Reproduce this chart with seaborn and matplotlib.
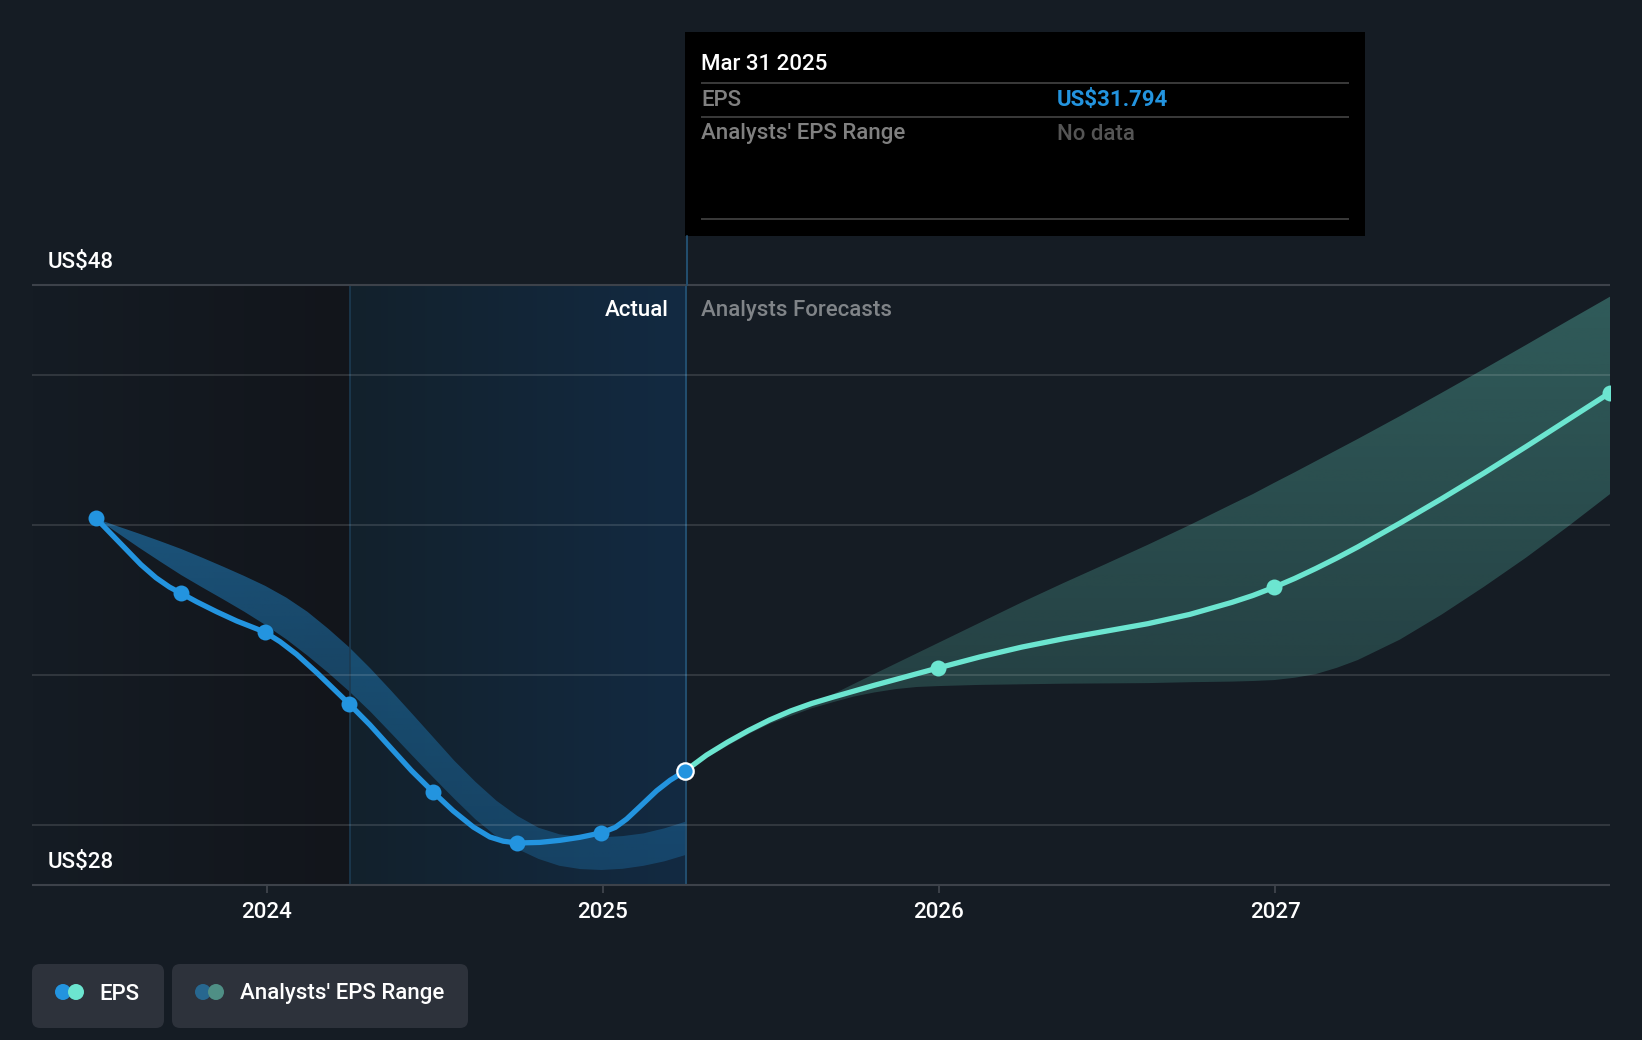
import numpy as np
import matplotlib as mpl
mpl.use('Agg')
import seaborn as sns
import matplotlib.pyplot as plt
from matplotlib.patches import FancyBboxPatch, Circle, Rectangle

# values (x in years, y in US$)
past_x = [2023.497, 2023.54, 2023.585, 2023.63, 2023.675, 2023.715, 2023.75, 2023.796, 2023.855, 2023.915, 2023.974, 2024.0,
	2024.044, 2024.093, 2024.153, 2024.202, 2024.25, 2024.311, 2024.374, 2024.435, 2024.5, 2024.559, 2024.619, 2024.668,
	2024.708, 2024.75, 2024.817, 2024.877, 2024.936, 2025.0, 2025.041, 2025.075, 2025.115, 2025.164, 2025.204, 2025.248]
past_y = [40.22, 39.72, 39.20, 38.68, 38.24, 37.93, 37.72, 37.44, 37.11, 36.80, 36.54, 36.42,
	36.11, 35.69, 35.08, 34.55, 34.03, 33.34, 32.56, 31.81, 31.09, 30.47, 29.93, 29.60,
	29.46, 29.40, 29.42, 29.49, 29.59, 29.74, 29.92, 30.20, 30.62, 31.14, 31.49, 31.794]
past_nodes_x = [2023.497, 2023.75, 2024.0, 2024.25, 2024.5, 2024.75, 2025.0]
past_nodes_y = [40.22, 37.72, 36.42, 34.03, 31.09, 29.40, 29.74]

past_band_x = [2023.5, 2023.5625, 2023.625, 2023.6875, 2023.75, 2023.8125, 2023.875, 2023.9375, 2024.0, 2024.0625,
	2024.125, 2024.1875, 2024.25, 2024.3125, 2024.375, 2024.4375, 2024.5, 2024.5625, 2024.625, 2024.6875,
	2024.75, 2024.8125, 2024.875, 2024.9375, 2025.0, 2025.0625, 2025.125, 2025.1875, 2025.25]
past_band_hi = [40.20, 39.95, 39.71, 39.46, 39.20, 38.91, 38.61, 38.30, 37.97, 37.58,
	37.11, 36.54, 35.92, 35.22, 34.47, 33.70, 32.92, 32.14, 31.44, 30.81,
	30.30, 29.91, 29.69, 29.60, 29.59, 29.63, 29.72, 29.89, 30.11]
past_band_lo = [40.20, 39.72, 39.24, 38.78, 38.33, 37.92, 37.52, 37.11, 36.67, 36.19,
	35.65, 35.07, 34.45, 33.78, 33.05, 32.31, 31.58, 30.87, 30.19, 29.62,
	29.20, 28.87, 28.64, 28.53, 28.50, 28.54, 28.64, 28.79, 29.00]

future_x = [2025.248, 2025.3125, 2025.375, 2025.4375, 2025.5, 2025.5625, 2025.625, 2025.6875, 2025.75, 2025.8125,
	2025.875, 2025.9375, 2026.0, 2026.125, 2026.25, 2026.375, 2026.5, 2026.625, 2026.75, 2026.875, 2026.9375,
	2027.0, 2027.0625, 2027.125, 2027.1875, 2027.25, 2027.375, 2027.5, 2027.625, 2027.75, 2027.875, 2028.0]
future_y = [31.794, 32.33, 32.76, 33.15, 33.50, 33.80, 34.05, 34.26, 34.46, 34.66,
	34.85, 35.04, 35.23, 35.60, 35.93, 36.21, 36.46, 36.71, 37.02, 37.42, 37.65,
	37.92, 38.22, 38.55, 38.90, 39.27, 40.06, 40.88, 41.73, 42.61, 43.51, 44.41]
future_hi = [31.794, 32.33, 32.76, 33.15, 33.50, 33.80, 34.05, 34.35, 34.70, 35.04,
	35.38, 35.72, 36.06, 36.74, 37.42, 38.07, 38.70, 39.34, 40.00, 40.69, 41.03,
	41.40, 41.76, 42.13, 42.50, 42.87, 43.63, 44.41, 45.20, 46.00, 46.81, 47.61]
future_lo = [31.794, 32.24, 32.64, 33.03, 33.37, 33.63, 33.89, 34.09, 34.28, 34.42,
	34.53, 34.60, 34.63, 34.67, 34.69, 34.71, 34.72, 34.73, 34.76, 34.78, 34.80,
	34.83, 34.91, 35.03, 35.24, 35.50, 36.18, 37.02, 37.94, 38.91, 39.95, 41.03]
future_nodes_x = [2026.0, 2027.0, 2028.0]
future_nodes_y = [35.23, 37.92, 44.41]

today_x = 2025.248
today_y = 31.794
year_ticks = [2024, 2025, 2026, 2027]
grid_values = [30, 35, 40, 45]

BG = '#151c24'
BLUE = '#2394df'
TEAL = '#6ce5d0'
LINE = '#3d424a'
WIDTH, HEIGHT = 1642, 1040


def px_axes(fig, left, top, right, bottom):
	return fig.add_axes([left / WIDTH, 1 - bottom / HEIGHT, (right - left) / WIDTH, (bottom - top) / HEIGHT])


def gradient_fill(ax, x, lo, hi, color, alpha_top, alpha_bottom, v_top=48, v_bottom=28):
	# band whose opacity fades from top to bottom
	poly = ax.fill_between(x, lo, hi, color='none', lw=0)
	rgba = np.zeros((256, 2, 4))
	rgba[:, :, :3] = mpl.colors.to_rgb(color)
	rgba[:, :, 3] = np.linspace(alpha_top, alpha_bottom, 256)[:, None]
	im = ax.imshow(rgba, extent=[x[0], x[-1], v_bottom, v_top], aspect='auto', zorder=1.5, origin='upper')
	im.set_clip_path(poly.get_paths()[0], transform=ax.transData)


def side_fade(ax, x0, x1, left, right):
	# left-to-right colour fade behind everything
	rgb = np.zeros((2, 256, 3))
	for i in range(3):
		rgb[:, :, i] = np.linspace(mpl.colors.to_rgb(left)[i], mpl.colors.to_rgb(right)[i], 256)
	ax.imshow(rgb, extent=[x0, x1, 28, 48], aspect='auto', zorder=0.5)


sns.set_theme(style='dark')
plt.rcParams['font.family'] = ['Roboto', 'DejaVu Sans']
plt.rcParams['font.weight'] = 500
plt.rcParams['figure.facecolor'] = BG
plt.rcParams['savefig.facecolor'] = BG

fig = plt.figure(figsize=(WIDTH / 100, HEIGHT / 100), dpi=100)
ax = px_axes(fig, 32, 285, 1610, 885)
ax.set_facecolor(BG)

side_fade(ax, 2023.306, 2024.252, BG, '#12151b')
side_fade(ax, 2024.252, 2025.25, '#13212c', '#122a42')

gradient_fill(ax, past_band_x, past_band_lo, past_band_hi, BLUE, 0.62, 0.25)
gradient_fill(ax, future_x, future_lo, future_hi, TEAL, 0.32, 0.12)

ax.axvline(2024.252, color='#1c3b52', lw=1.2, zorder=1.8)
ax.axvline(2025.25, color='#234f70', lw=1.4, zorder=1.8)

sns.lineplot(x=past_x, y=past_y, ax=ax, color=BLUE, lw=3.8, estimator=None, sort=False, zorder=3, solid_joinstyle='round')
sns.lineplot(x=future_x, y=future_y, ax=ax, color=TEAL, lw=3.8, estimator=None, sort=False, zorder=3, solid_joinstyle='round')
sns.scatterplot(x=past_nodes_x, y=past_nodes_y, ax=ax, color=BLUE, s=132, linewidth=0, zorder=4)
sns.scatterplot(x=future_nodes_x, y=future_nodes_y, ax=ax, color=TEAL, s=132, linewidth=0, zorder=4)
sns.scatterplot(x=[today_x], y=[today_y], ax=ax, color=BLUE, s=140, edgecolor='white', linewidth=1.6, zorder=5)

ax.set_xlim(2023.306, 2028.0)
ax.set_ylim(28, 48)
ax.set_xticks([y + 0.004 for y in year_ticks])
ax.set_xticklabels([str(y) for y in year_ticks], color='white', fontsize=16)
ax.set_yticks(grid_values)
ax.set_yticklabels([])
ax.grid(axis='y', color='white', alpha=0.12, lw=1.5, zorder=1.7)
ax.grid(axis='x', visible=False)
ax.set_axisbelow(False)
ax.tick_params(axis='x', length=6, width=1.4, color=LINE, pad=6.5, bottom=True)
ax.tick_params(axis='y', length=0)
for side in ['left', 'right']:
	ax.spines[side].set_visible(False)
for side in ['top', 'bottom']:
	ax.spines[side].set_color(LINE)
	ax.spines[side].set_linewidth(1.5)
	ax.spines[side].set_capstyle('butt')

# everything else is laid out in picture pixels
over = fig.add_axes([0, 0, 1, 1])
over.set_xlim(0, WIDTH)
over.set_ylim(HEIGHT, 0)
over.axis('off')
over.patch.set_alpha(0)

label = dict(fontsize=16, va='center')
over.text(47.5, 262, 'US$48', color='white', **label)
over.text(47.5, 862, 'US$28', color='white', **label)
over.text(669, 310, 'Actual', color='white', ha='right', **label)
over.text(701, 310.5, 'Analysts Forecasts', color='#808488', **label)

# tooltip
over.add_patch(Rectangle((685, 32), 680, 204, color='black', lw=0))
over.plot([686.7, 686.7], [236, 285], color='#234f70', lw=1.4)
for y in [83, 117, 219]:
	over.plot([701, 1349], [y, y], color='#3a3a3a', lw=1.4, solid_capstyle='butt')
over.text(701, 64, 'Mar 31 2025', color='white', **label)
over.text(701, 100, 'EPS', color='#808080', **label)
over.text(1057, 100, 'US$31.794', color=BLUE, fontweight='bold', **label)
over.text(701, 134, "Analysts' EPS Range", color='#808080', **label)
over.text(1057, 134, 'No data', color='#555555', **label)

# legend chips
for x0, x1 in [(32, 164), (172, 468)]:
	over.add_patch(FancyBboxPatch((x0 + 8, 972), x1 - x0 - 16, 48, boxstyle='round,pad=8,rounding_size=8', color='#2d323b', lw=0))
over.add_patch(Circle((63, 992), 8, color=BLUE, lw=0))
over.add_patch(Circle((76, 992), 8, color=TEAL, lw=0))
over.add_patch(Circle((203, 992), 8, color='#27678f', lw=0))
over.add_patch(Circle((216, 992), 8, color='#4f8f85', lw=0))
over.text(99.5, 994, 'EPS', color='white', **label)
over.text(240, 994, "Analysts' EPS Range", color='white', **label)

fig.savefig('out.png', dpi=100)
